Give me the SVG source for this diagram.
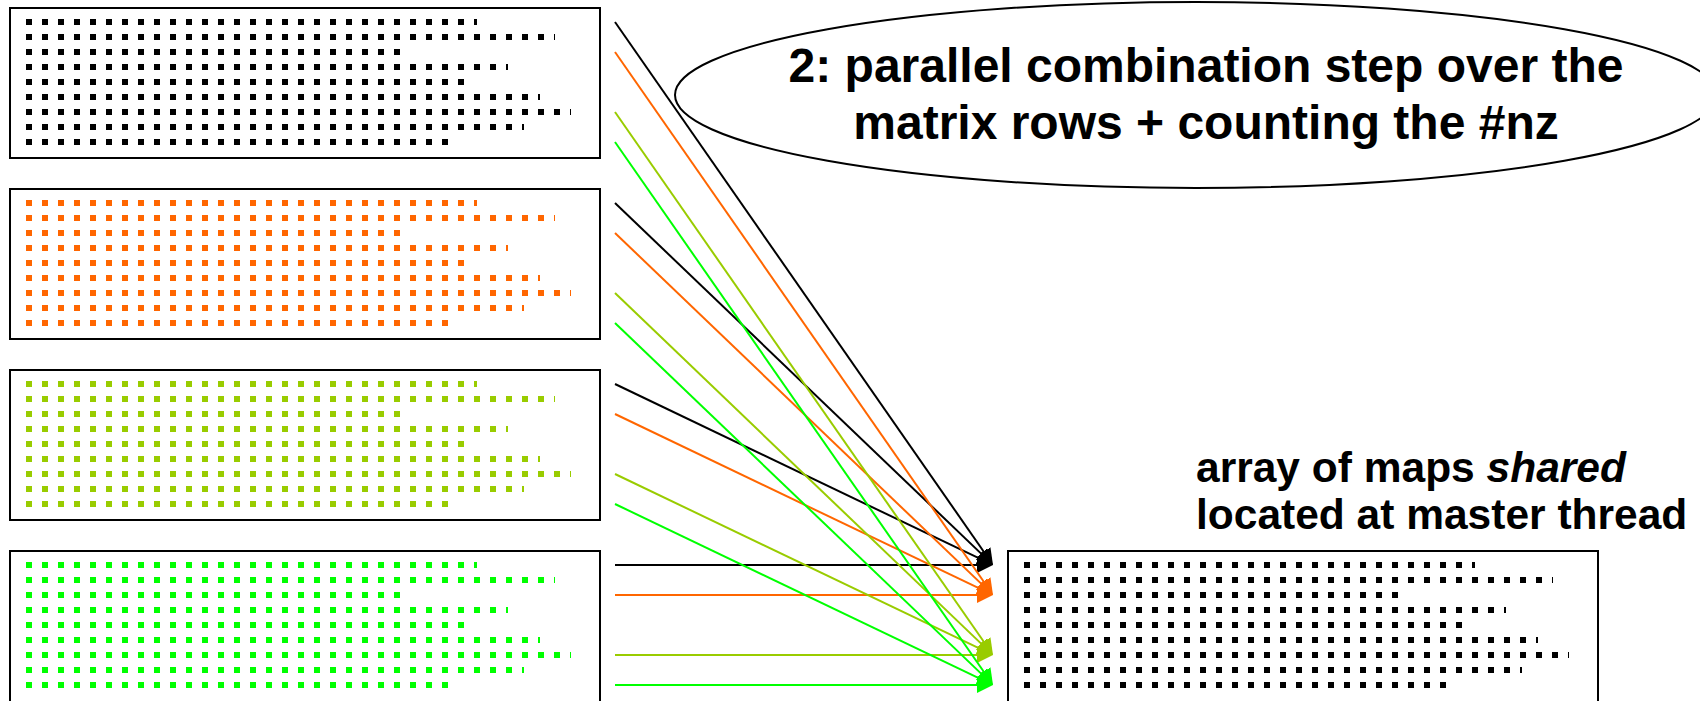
<svg xmlns="http://www.w3.org/2000/svg" width="1700" height="701" viewBox="0 0 1700 701">
<style>
.box{fill:#fff;stroke:#000;stroke-width:2}
.c{stroke-width:2;fill:none}
.k{stroke:#000}
.o{stroke:#FF6600}
.g{stroke:#99CC00}
.n{stroke:#00FF00}
.t{font-family:"Liberation Sans",Arial,sans-serif;font-weight:bold;fill:#000}
</style>
<defs>
<g id="rows" stroke-width="6" stroke-dasharray="6 10" fill="none">
<line x1="16" y1="14" x2="467" y2="14"/>
<line x1="16" y1="29" x2="545" y2="29"/>
<line x1="16" y1="44" x2="392" y2="44"/>
<line x1="16" y1="59" x2="498" y2="59"/>
<line x1="16" y1="74" x2="454" y2="74"/>
<line x1="16" y1="89" x2="530" y2="89"/>
<line x1="16" y1="104" x2="561" y2="104"/>
<line x1="16" y1="119" x2="514" y2="119"/>
<line x1="16" y1="134" x2="438" y2="134"/>
</g>
<marker id="ak" markerUnits="userSpaceOnUse" markerWidth="16" markerHeight="16" refX="13" refY="8" orient="auto"><path d="M0,0 L16,8 L0,16 z" fill="#000"/></marker>
<marker id="ao" markerUnits="userSpaceOnUse" markerWidth="16" markerHeight="16" refX="13" refY="8" orient="auto"><path d="M0,0 L16,8 L0,16 z" fill="#FF6600"/></marker>
<marker id="ag" markerUnits="userSpaceOnUse" markerWidth="16" markerHeight="16" refX="13" refY="8" orient="auto"><path d="M0,0 L16,8 L0,16 z" fill="#99CC00"/></marker>
<marker id="an" markerUnits="userSpaceOnUse" markerWidth="16" markerHeight="16" refX="13" refY="8" orient="auto"><path d="M0,0 L16,8 L0,16 z" fill="#00FF00"/></marker>
</defs>

<g id="box1"><rect class="box" x="10" y="8" width="590" height="150"/><use href="#rows" x="10" y="8" stroke="#000"/></g>
<g id="box2"><rect class="box" x="10" y="189" width="590" height="150"/><use href="#rows" x="10" y="189" stroke="#FF6600"/></g>
<g id="box3"><rect class="box" x="10" y="370" width="590" height="150"/><use href="#rows" x="10" y="370" stroke="#99CC00"/></g>
<g id="box4"><rect class="box" x="10" y="551" width="590" height="153"/><use href="#rows" x="10" y="551" stroke="#00FF00"/></g>
<g id="shared"><rect class="box" x="1008" y="551" width="590" height="153"/><use href="#rows" x="1008" y="551" stroke="#000"/></g>

<g id="callout">
<ellipse cx="1196" cy="95" rx="521" ry="93" fill="#fff" stroke="#000" stroke-width="2"/>
</g>

<g id="connectors">
<line class="c k" x1="615" y1="22" x2="991.3" y2="562.5" marker-end="url(#ak)"/>
<line class="c k" x1="615" y1="203" x2="990.8" y2="562.9" marker-end="url(#ak)"/>
<line class="c k" x1="615" y1="384" x2="990.3" y2="563.7" marker-end="url(#ak)"/>
<line class="c k" x1="615" y1="565" x2="990" y2="565" marker-end="url(#ak)"/>
<line class="c o" x1="615" y1="52" x2="991.3" y2="592.5" marker-end="url(#ao)"/>
<line class="c o" x1="615" y1="233" x2="990.8" y2="592.9" marker-end="url(#ao)"/>
<line class="c o" x1="615" y1="414" x2="990.3" y2="593.7" marker-end="url(#ao)"/>
<line class="c o" x1="615" y1="595" x2="990" y2="595" marker-end="url(#ao)"/>
<line class="c g" x1="615" y1="112" x2="991.3" y2="652.5" marker-end="url(#ag)"/>
<line class="c g" x1="615" y1="293" x2="990.8" y2="652.9" marker-end="url(#ag)"/>
<line class="c g" x1="615" y1="474" x2="990.3" y2="653.7" marker-end="url(#ag)"/>
<line class="c g" x1="615" y1="655" x2="990" y2="655" marker-end="url(#ag)"/>
<line class="c n" x1="615" y1="142" x2="991.3" y2="682.5" marker-end="url(#an)"/>
<line class="c n" x1="615" y1="323" x2="990.8" y2="682.9" marker-end="url(#an)"/>
<line class="c n" x1="615" y1="504" x2="990.3" y2="683.7" marker-end="url(#an)"/>
<line class="c n" x1="615" y1="685" x2="990" y2="685" marker-end="url(#an)"/>
</g>

<g id="callout-text">
<text class="t" font-size="48" text-anchor="middle"><tspan x="1206" y="82">2: parallel combination step over the</tspan><tspan x="1206" y="139">matrix rows + counting the #nz</tspan></text>
</g>
<g id="shared-label">
<text class="t" font-size="42.5" x="1196" y="482">array of maps <tspan font-style="italic">shared</tspan></text>
<text class="t" font-size="42.5" x="1196" y="529">located at master thread</text>
</g>
</svg>
